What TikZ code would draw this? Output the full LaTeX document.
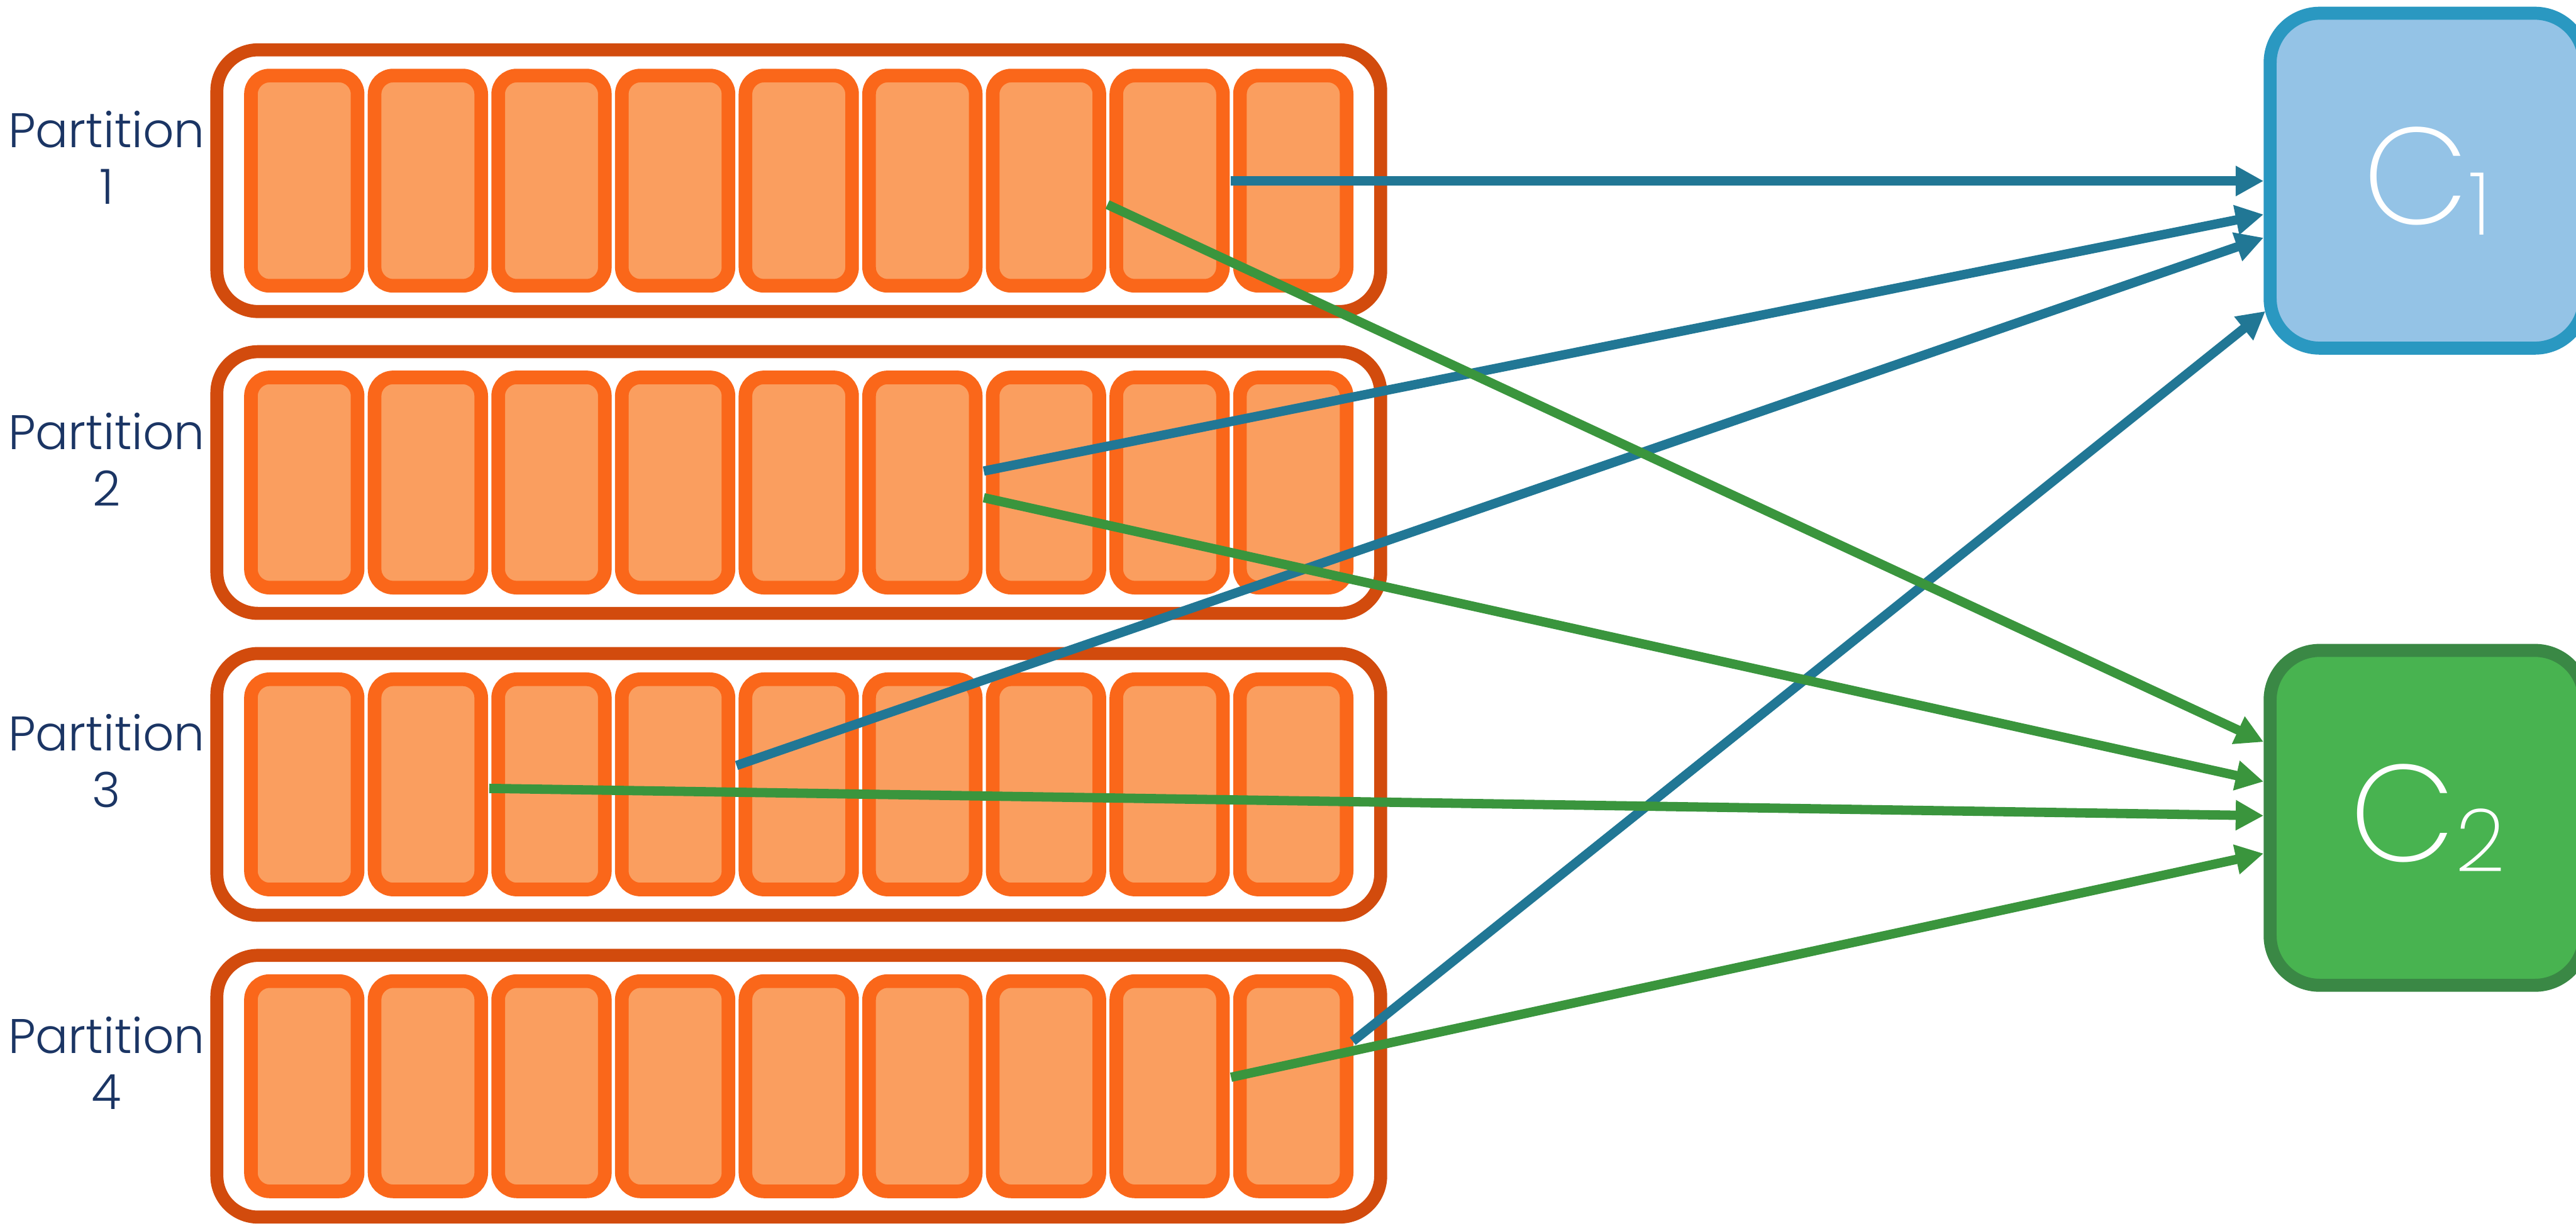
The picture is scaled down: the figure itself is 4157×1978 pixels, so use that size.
\documentclass[tikz,border=0pt]{standalone}
\usepackage{fontspec}
\IfFontExistsTF{Poppins Light}{\setmainfont{Poppins Light}}{\setmainfont{Poppins}}
\IfFontExistsTF{Poppins ExtraLight}{\newfontfamily\thinfont{Poppins ExtraLight}}{\newfontfamily\thinfont{Poppins}}
\usetikzlibrary{arrows.meta,calc}
\definecolor{partborder}{HTML}{D24B0D}
\definecolor{cellborder}{HTML}{FA671A}
\definecolor{cellfill}{HTML}{FA9E5F}
\definecolor{conAborder}{HTML}{2A98C1}
\definecolor{conAfill}{HTML}{94C3E6}
\definecolor{conBborder}{HTML}{3A8845}
\definecolor{conBfill}{HTML}{48B350}
\definecolor{bluearrow}{HTML}{217795}
\definecolor{greenarrow}{HTML}{3A953D}
\definecolor{labeltext}{HTML}{1B3564}
\begin{document}
\begin{tikzpicture}[x=0.01cm,y=-0.01cm,
  partbox/.style={draw=partborder, fill=white, line width=0.21cm, rounded corners=0.665cm,
    minimum width=18.77cm, minimum height=4.22cm, inner sep=0pt},
  cellbox/.style={draw=cellborder, fill=cellfill, line width=0.22cm, rounded corners=0.3cm,
    minimum width=1.72cm, minimum height=3.39cm, inner sep=0pt},
  consumer/.style={line width=0.21cm, rounded corners=0.8cm,
    minimum width=5.07cm, minimum height=5.40cm, inner sep=0pt, text=white},
  plabel/.style={text=labeltext, align=center, inner sep=0pt,
    font=\fontsize{22.3}{25.9}\selectfont},
  blueflow/.style={draw=bluearrow, line width=0.15cm, -{Triangle[length=0.45cm,width=0.46cm]}},
  greenflow/.style={draw=greenarrow, line width=0.15cm, -{Triangle[length=0.45cm,width=0.46cm]}}
]
\useasboundingbox (0,0) rectangle (4157,1978);

\foreach \i in {1,...,4}{
  \pgfmathsetmacro\cy{291.5+487*(\i-1)}
  \node[partbox] (p\i) at (1289,\cy) {};
  \node[plabel] (lab\i) at (172,\cy-37.5) {Partition\\\i};
  \foreach \k in {1,...,9}{
    \pgfmathsetmacro\cx{491+199.5*(\k-1)}
    \node[cellbox] (p\i-\k) at (\cx,\cy) {};
  }
}

\node[consumer, draw=conAborder, fill=conAfill] (C1) at (3917,291.5)
  {\thinfont\fontsize{63}{70}\selectfont C\raisebox{-0.17cm}{\fontsize{40}{48}\selectfont 1}};
\node[consumer, draw=conBborder, fill=conBfill] (C2) at (3917,1319.5)
  {\thinfont\fontsize{63}{70}\selectfont C\raisebox{-0.16cm}{\fontsize{40}{48}\selectfont 2}};

% consumer 1 (blue)
\draw[blueflow] ($(p1-8.east)+(2,0.5)$) -- ($(C1.west)+(0,0.5)$);
\draw[blueflow] ($(p2-6.east)+(2,-18.5)$) -- ($(C1.west)+(0,54.5)$);
\draw[blueflow] ($(p3-4.east)+(2,-30.5)$) -- ($(C1.west)+(0,92)$);
\draw[blueflow] ($(p4-9.east)+(-1,-72.5)$) -- ($(C1.west)+(3,210.5)$);

% consumer 2 (green)
\draw[greenflow] ($(p1-7.east)+(2,38.5)$) -- ($(C2.west)+(0,-122.5)$);
\draw[greenflow] ($(p2-6.east)+(2,24.5)$) -- ($(C2.west)+(0,-58.5)$);
\draw[greenflow] ($(p3-2.east)+(2,6.5)$) -- ($(C2.west)+(0,-3.5)$);
\draw[greenflow] ($(p4-8.east)+(2,-14.5)$) -- ($(C2.west)+(0,57.5)$);
\end{tikzpicture}
\end{document}
